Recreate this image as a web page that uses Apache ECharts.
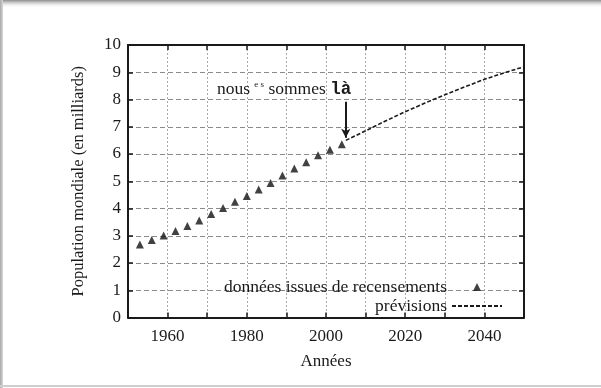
<!DOCTYPE html>
<html>
<head>
<meta charset="utf-8">
<script src="https://cdn.jsdelivr.net/npm/echarts@6/dist/echarts.min.js"></script>
<style>
html,body{margin:0;padding:0;background:#fff;}
#main{width:601px;height:388px;}
</style>
</head>
<body>
<div id="main"></div>
<script>
// ---- data ----
const censusYears = [1953,1956,1959,1962,1965,1968,1971,1974,1977,1980,1983,1986,1989,1992,1995,1998,2001,2004];
const censusValues = [2.68,2.84,3.01,3.17,3.36,3.56,3.80,4.02,4.25,4.46,4.70,4.94,5.21,5.47,5.70,5.95,6.16,6.36];
const forecastYears = [2005,2010,2015,2020,2025,2030,2035,2040,2045,2050];
const forecastValues = [6.50,6.85,7.21,7.55,7.87,8.17,8.46,8.74,8.98,9.20];
const xTickLabels = [1960,1980,2000,2020,2040];
const seriesNames = ['données issues de recensements','prévisions'];
const annotationPos = [1989.4, 8.38];
const arrowFrom = [2005, 7.92];
const arrowTo = [2005, 6.60];

const serif = '"Liberation Serif","DejaVu Serif",serif';
const ink = '#1a1a1a';

const chart = echarts.init(document.getElementById('main'));
const baseAxis = {
  axisLine:{show:true, onZero:false, lineStyle:{color:ink, width:2}},
  axisTick:{show:true, inside:true, length:5, lineStyle:{color:ink, width:1.5}},
};
chart.setOption({
  backgroundColor:'#fff',
  animation:false,
  graphic:[
    {type:'rect', shape:{x:0,y:0,width:601,height:8}, z:100,
     style:{fill:new echarts.graphic.LinearGradient(0,0,0,1,[{offset:0,color:'#8a8a8a'},{offset:1,color:'rgba(255,255,255,0)'}])}},
    {type:'rect', shape:{x:0,y:0,width:3,height:388}, z:100,
     style:{fill:new echarts.graphic.LinearGradient(0,0,1,0,[{offset:0,color:'#a8a8a8'},{offset:1,color:'#d8d8d8'}])}},
    {type:'rect', shape:{x:0,y:385,width:601,height:2}, z:100, style:{fill:'#cfcfcf'}}
  ],
  grid:{left:128, right:77, top:45, bottom:70.5, show:false},
  xAxis:[
    Object.assign({}, baseAxis, {
      type:'value', min:1950, max:2050, interval:10, position:'bottom',
      name:'Années', nameLocation:'middle', nameGap:36,
      nameTextStyle:{fontFamily:serif, fontSize:17, color:ink},
      axisLabel:{margin:11, fontFamily:serif, fontSize:17, color:ink,
        formatter:v => xTickLabels.indexOf(v) >= 0 ? String(v) : ''},
      splitLine:{show:true, lineStyle:{color:'#a8a8a8', width:1, type:[2,2]}}
    }),
    Object.assign({}, baseAxis, {
      type:'value', min:1950, max:2050, interval:10, position:'top',
      axisLabel:{show:false}, splitLine:{show:false}
    })
  ],
  yAxis:[
    Object.assign({}, baseAxis, {
      type:'value', min:0, max:10, interval:1, position:'left',
      name:'Population mondiale (en milliards)', nameLocation:'middle', nameGap:41, nameRotate:90,
      nameTextStyle:{fontFamily:serif, fontSize:16.5, color:ink},
      axisLabel:{margin:7, fontFamily:serif, fontSize:17, color:ink},
      splitLine:{show:true, lineStyle:{color:'#8a8a8a', width:1, type:[5,3]}}
    }),
    Object.assign({}, baseAxis, {
      type:'value', min:0, max:10, interval:1, position:'right',
      axisLabel:{show:false}, splitLine:{show:false}
    })
  ],
  legend:{
    orient:'vertical', align:'right', right:93, top:273,
    itemWidth:50, itemHeight:8, itemGap:1,
    symbolKeepAspect:true,
    textStyle:{fontFamily:serif, fontSize:17.5, color:ink},
    data:[
      {name:seriesNames[0], icon:'path://M0,8 L4,0 L8,8 Z'},
      {name:seriesNames[1], itemStyle:{color:'transparent', borderWidth:0, opacity:0}}
    ]
  },
  series:[
    {
      name:seriesNames[0], type:'scatter', symbol:'triangle', symbolSize:8,
      itemStyle:{color:'#111'},
      data:censusYears.map((y,i)=>[y, censusValues[i]])
    },
    {
      name:seriesNames[1], type:'line', showSymbol:false, symbol:'none',
      lineStyle:{color:ink, width:1.6, type:[4,2]},
      itemStyle:{color:ink},
      data:forecastYears.map((y,i)=>[y, forecastValues[i]]),
      markLine:{
        silent:true, symbol:['none','arrow'], symbolSize:[7,9],
        lineStyle:{color:ink, width:2, type:'solid'},
        label:{show:false},
        data:[[{coord:arrowFrom},{coord:arrowTo}]]
      },
      markPoint:{
        silent:true, symbol:'circle', symbolSize:0,
        itemStyle:{color:'transparent'},
        label:{show:true, position:'inside', color:ink,
          formatter:'{a|nous }{s|e s}{a| sommes }{b|là}',
          rich:{
            a:{fontFamily:serif, fontSize:17.5, color:ink, lineHeight:19},
            s:{fontFamily:serif, fontSize:9, color:ink, verticalAlign:'top', lineHeight:19, padding:[0,0,8,0]},
            b:{fontFamily:'"Liberation Mono","DejaVu Sans Mono",monospace', fontWeight:'bold', fontSize:17.5, color:ink, lineHeight:19}
          }
        },
        data:[{coord:annotationPos}]
      }
    }
  ]
});
</script>
</body>
</html>
